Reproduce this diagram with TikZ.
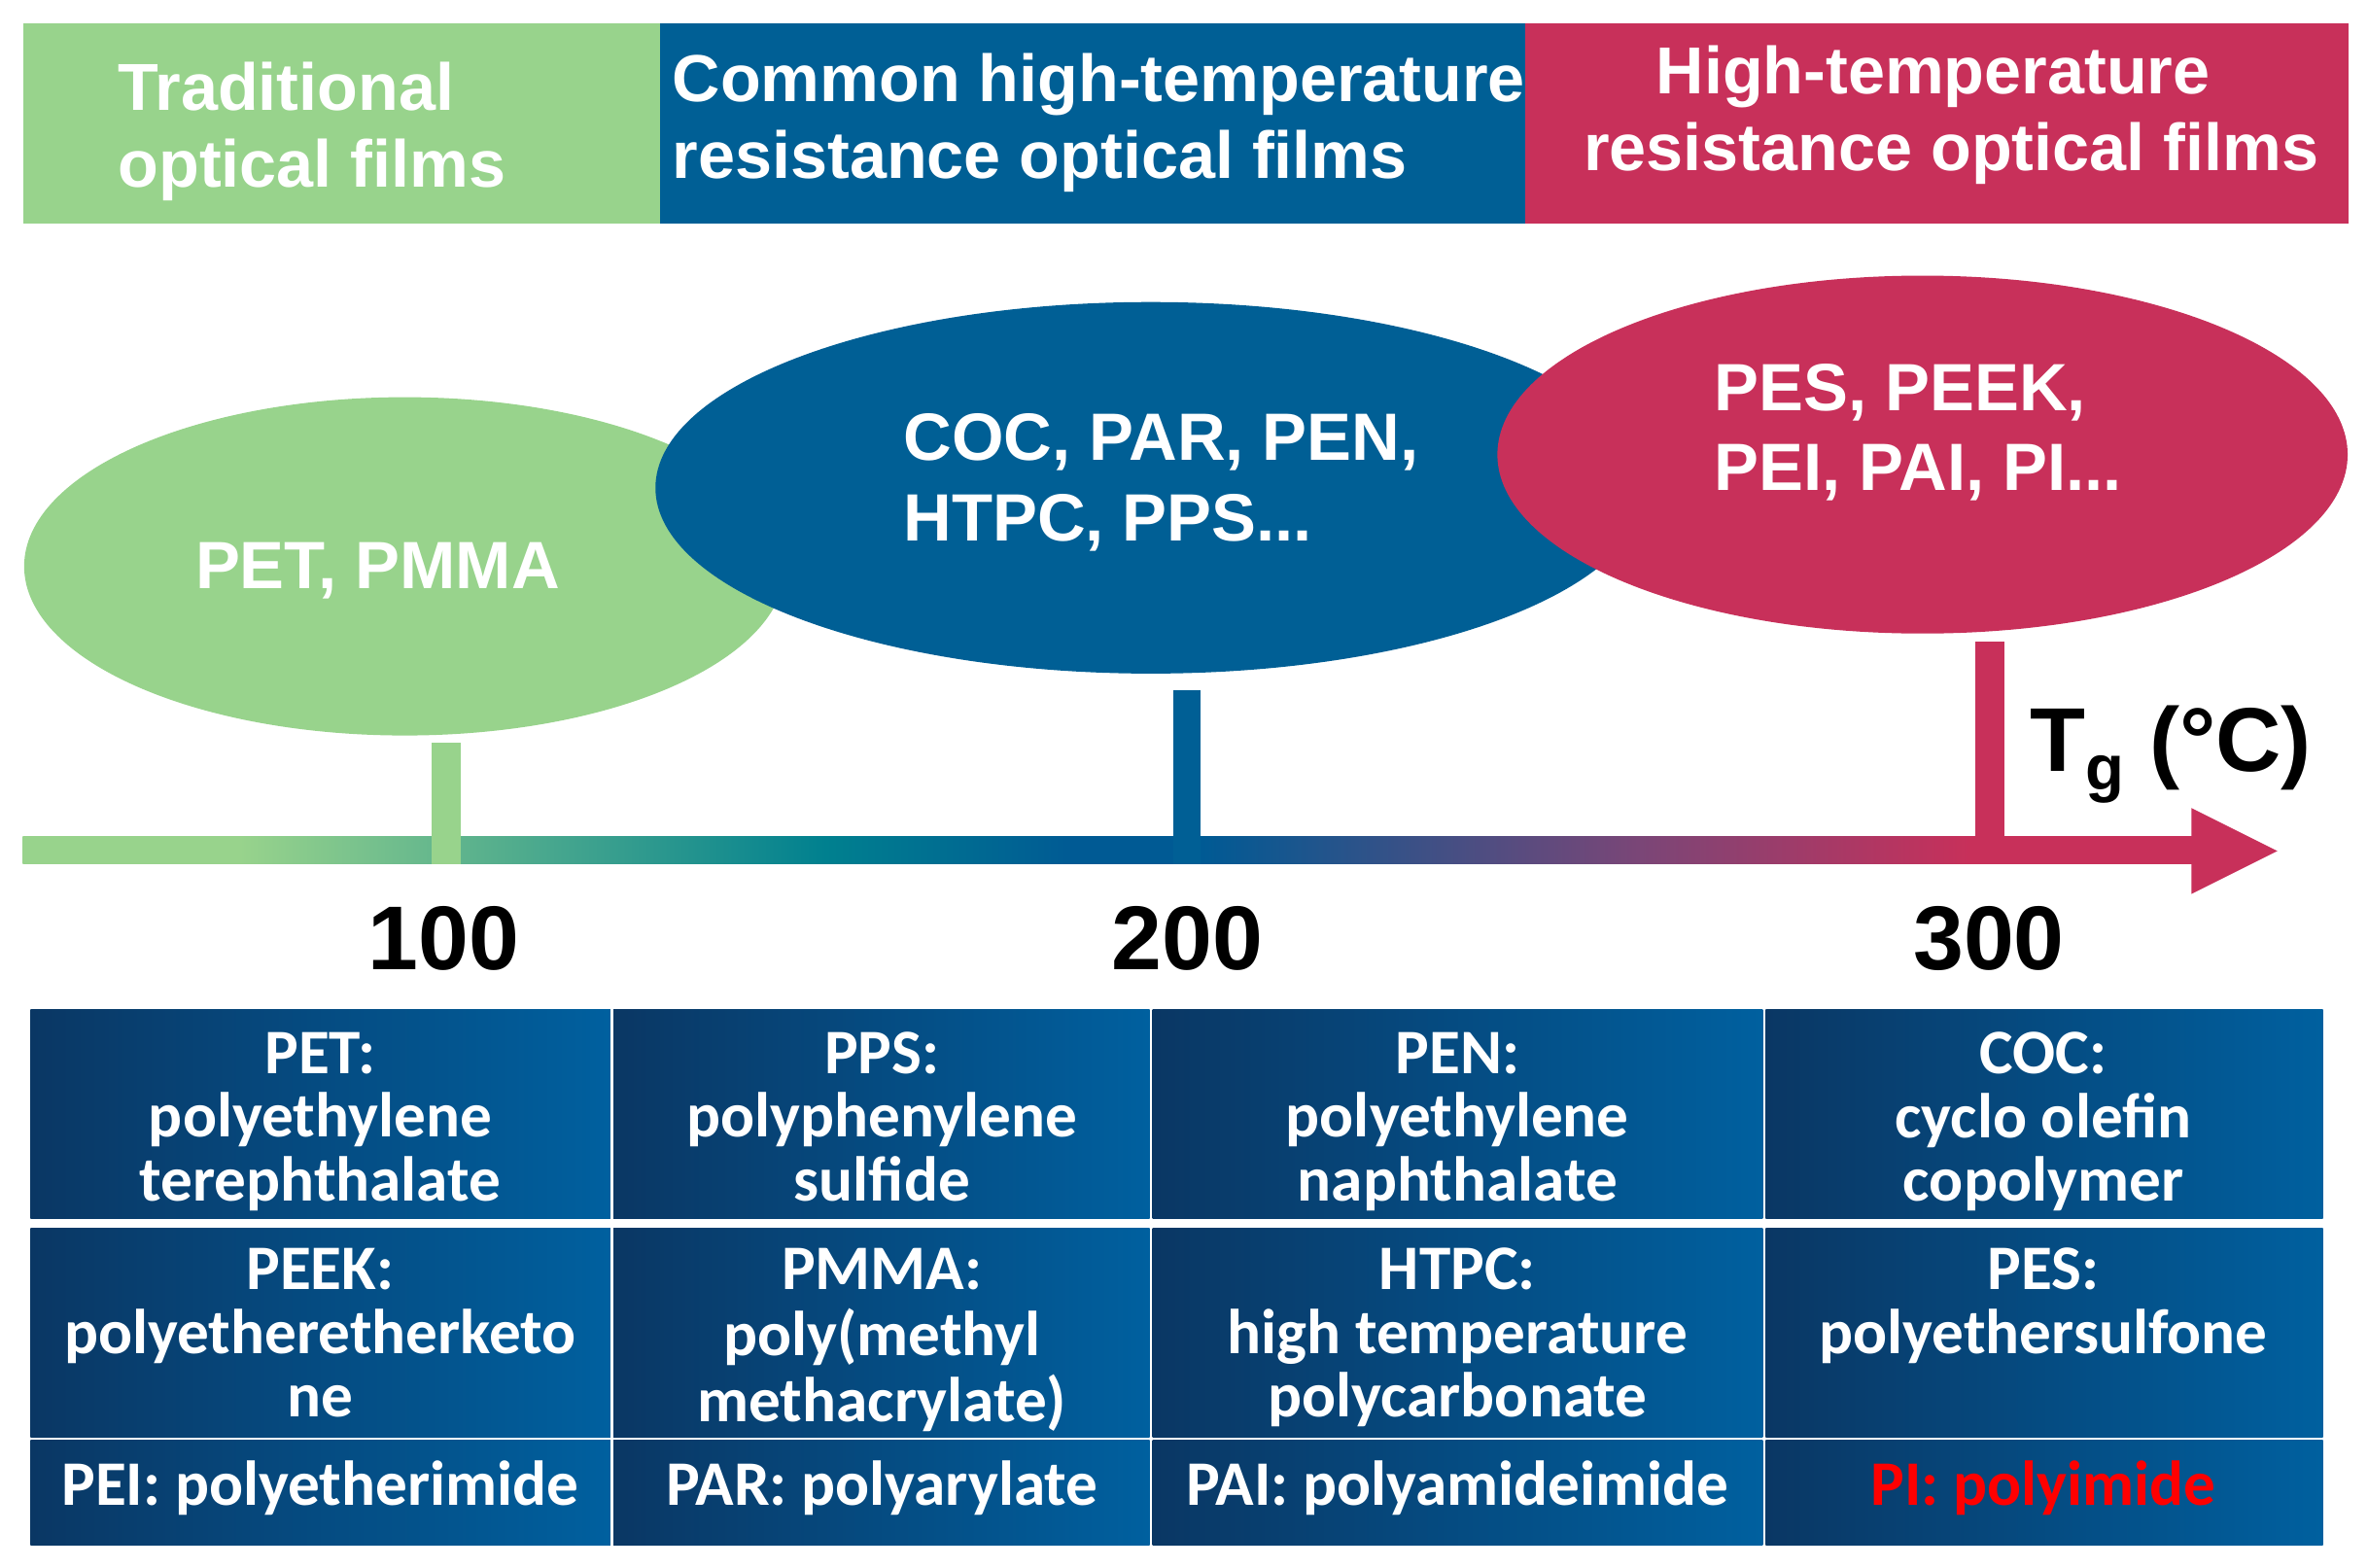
\documentclass[tikz,border=0pt]{standalone}
\usepackage{fontspec}
\setmainfont{Liberation Sans}
\newfontfamily\calib{Carlito}
\usetikzlibrary{shapes.geometric}
\definecolor{tgreen}{HTML}{98D38C}
\definecolor{tblue}{HTML}{005F95}
\definecolor{tred}{HTML}{C8305A}
\definecolor{ateal}{HTML}{00808F}
\definecolor{adblue}{HTML}{005A94}
\definecolor{apurple}{HTML}{7A4677}
\definecolor{cellL}{HTML}{0A3764}
\definecolor{cellR}{HTML}{00609F}
\definecolor{pired}{HTML}{FF0000}
\pgfdeclarehorizontalshading{axisgrad}{100bp}{color(0bp)=(tgreen); color(30bp)=(tgreen); color(43.5bp)=(ateal); color(49.2bp)=(adblue); color(52.2bp)=(adblue); color(62.2bp)=(apurple); color(69.9bp)=(tred); color(100bp)=(tred)}
\newcommand\ctxt[1]{\begin{tabular}[t]{@{}c@{}}#1\end{tabular}}
\newcommand\ltxt[1]{\begin{tabular}[t]{@{}l@{}}#1\end{tabular}}
\begin{document}
\begin{tikzpicture}[x=1pt,y=-1pt,
  hdr/.style={text=white, font=\fontsize{44}{51}\selectfont\bfseries, inner sep=0pt},
  elltext/.style={text=white, font=\fontsize{44.3}{53}\selectfont\bfseries, inner sep=0pt},
  ell/.style={ellipse, inner sep=0pt, draw=none},
  cellbox/.style={rectangle, left color=cellL, right color=cellR, inner sep=0pt, anchor=north west, draw=none},
  celltxt/.style={text=white, font=\fontsize{42}{42}\selectfont\calib\bfseries, inner sep=0pt, anchor=base},
  ticklab/.style={font=\fontsize{60}{60}\selectfont\bfseries, inner sep=0pt, anchor=base}]
\useasboundingbox (0,0) rectangle (1568,1038);
% header bands
\node[rectangle, fill=tgreen, inner sep=0pt, minimum width=422pt, minimum height=133pt, anchor=north west] (hb1) at (15,15) {};
\node[rectangle, fill=tblue, inner sep=0pt, minimum width=573pt, minimum height=133pt, anchor=north west] (hb2) at (437,15) {};
\node[rectangle, fill=tred, inner sep=0pt, minimum width=545pt, minimum height=133pt, anchor=north west] (hb3) at (1010,15) {};
\node[hdr, anchor=base west] (h1) at (78,73) {\ltxt{Traditional\\optical films}};
\node[hdr, anchor=base west] (h2) at (445,67) {\ltxt{Common high-temperature\\resistance optical films}};
\node[hdr, anchor=base] (h3) at (1292,62) {\ctxt{High-temperature\hspace*{24pt}\\resistance optical films}};
% ellipses
\node[ell, fill=tgreen, minimum width=504pt, minimum height=224pt] (e1) at (268,375) {};
\node[ell, fill=tblue, minimum width=656pt, minimum height=246pt] (e2) at (762,323) {};
\node[ell, fill=tred, minimum width=563pt, minimum height=237pt] (e3) at (1273,301) {};
\node[elltext, anchor=base] (et1) at (250,390) {PET, PMMA};
\node[elltext, anchor=base west] (et2) at (598,305) {\ltxt{COC, PAR, PEN,\\HTPC, PPS...}};
\node[elltext, anchor=base west] (et3) at (1135,272) {\ltxt{PES, PEEK,\\PEI, PAI, PI...}};
% axis
\shade[shading=axisgrad] (15,554) rectangle (1452,572);
\fill[tred] (1451,535) -- (1508,563.5) -- (1451,592) -- cycle;
\fill[tgreen] (286,492) rectangle (305,572);
\fill[tblue] (777,457) rectangle (795,572);
\fill[tred] (1308,425) rectangle (1327,572);
\node[ticklab] (n100) at (294,642) {100};
\node[ticklab] (n200) at (786,642) {200};
\node[ticklab] (n300) at (1317,642) {300};
\node[font=\fontsize{60}{60}\selectfont\bfseries, inner sep=0pt, anchor=base west] (tg) at (1344,511) {T\raisebox{-12pt}{\fontsize{42}{42}\selectfont g} (°C)};
% table
\node[cellbox, minimum width=384pt, minimum height=138.5pt] (c11) at (20,668) {};
\node[cellbox, minimum width=355pt, minimum height=138.5pt] (c12) at (406,668) {};
\node[cellbox, minimum width=404pt, minimum height=138.5pt] (c13) at (763,668) {};
\node[cellbox, minimum width=369pt, minimum height=138.5pt] (c14) at (1169,668) {};
\node[cellbox, minimum width=384pt, minimum height=138.5pt] (c21) at (20,813) {};
\node[cellbox, minimum width=355pt, minimum height=138.5pt] (c22) at (406,813) {};
\node[cellbox, minimum width=404pt, minimum height=138.5pt] (c23) at (763,813) {};
\node[cellbox, minimum width=369pt, minimum height=138.5pt] (c24) at (1169,813) {};
\node[cellbox, minimum width=384pt, minimum height=69.5pt] (c31) at (20,953.5) {};
\node[cellbox, minimum width=355pt, minimum height=69.5pt] (c32) at (406,953.5) {};
\node[cellbox, minimum width=404pt, minimum height=69.5pt] (c33) at (763,953.5) {};
\node[cellbox, minimum width=369pt, minimum height=69.5pt] (c34) at (1169,953.5) {};
\node[celltxt] (t11) at (212,711) {\ctxt{PET:\\polyethylene\\terephthalate}};
\node[celltxt] (t12) at (584,711) {\ctxt{PPS:\\polyphenylene\\sulfide}};
\node[celltxt] (t13) at (965,711) {\ctxt{PEN:\\polyethylene\\naphthalate}};
\node[celltxt] (t14) at (1353,711) {\ctxt{COC:\\cyclo olefin\\copolymer}};
\node[celltxt] (t21) at (212,854) {\ctxt{PEEK:\\polyetheretherketo\\ne}};
\node[celltxt] (t22) at (584,854) {\ctxt{PMMA:\\poly(methyl\\methacrylate)}};
\node[celltxt] (t23) at (965,854) {\ctxt{HTPC:\\high temperature\\polycarbonate}};
\node[celltxt] (t24) at (1353,854) {\ctxt{PES:\\polyethersulfone}};
\node[celltxt] (t31) at (212,997) {PEI: polyetherimide};
\node[celltxt] (t32) at (584,997) {PAR: polyarylate};
\node[celltxt] (t33) at (965,997) {PAI: polyamideimide};
\node[celltxt, text=pired] (t34) at (1353,997) {PI: polyimide};
\end{tikzpicture}
\end{document}
